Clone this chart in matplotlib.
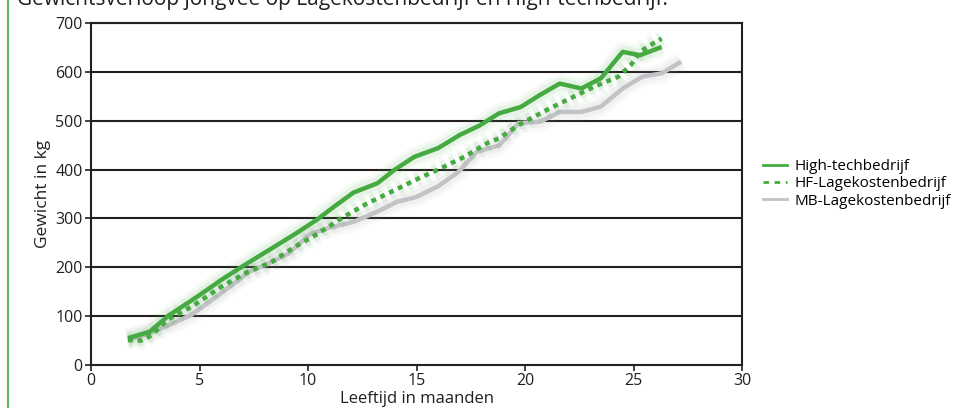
import matplotlib
matplotlib.use("Agg")
import matplotlib.pyplot as plt
import matplotlib.patheffects as pe
from matplotlib.lines import Line2D

plt.rcParams['font.family'] = ['Open Sans', 'DejaVu Sans']

title = "Gewichtsverloop jongvee op Lagekostenbedrijf en High-techbedrijf."
xlabel = "Leeftijd in maanden"
ylabel = "Gewicht in kg"
series_names = ["High-techbedrijf", "HF-Lagekostenbedrijf", "MB-Lagekostenbedrijf"]

ht_x = [1.7, 2.7, 3.6, 4.9, 6.1, 7.2, 8.3, 9.4, 10.4, 11.2, 12.1, 13.2, 14.0, 14.9,
        16.0, 17.0, 17.9, 18.8, 19.8, 20.7, 21.6, 22.6, 23.5, 24.5, 25.3, 26.3]
ht_y = [55, 68, 102, 140, 177, 208, 238, 268, 297, 324, 353, 372, 400, 426,
        444, 471, 490, 515, 528, 553, 576, 566, 587, 641, 634, 651]

hf_x = [1.7, 2.3, 2.8, 3.5, 4.7, 6.0, 7.2, 8.3, 9.4, 10.5, 11.6, 12.7, 14.0, 15.1,
        16.0, 17.2, 18.3, 18.8, 19.7, 21.0, 22.1, 23.2, 24.3, 24.9, 25.3, 25.9, 26.3]
hf_y = [51, 50, 61, 92, 121, 160, 190, 210, 242, 270, 302, 330, 358, 382,
        400, 426, 455, 464, 491, 522, 546, 570, 590, 615, 641, 658, 668]

mb_x = [1.7, 2.7, 3.6, 4.6, 6.0, 7.3, 8.1, 9.1, 10.1, 10.9, 12.1, 13.2, 14.1, 15.0,
        16.0, 16.9, 17.8, 18.8, 19.7, 20.7, 21.6, 22.6, 23.5, 24.5, 25.4, 26.3, 27.2]
mb_y = [51, 65, 82, 102, 147, 191, 206, 228, 268, 280, 293, 314, 334, 344,
        366, 394, 437, 449, 495, 498, 518, 518, 529, 566, 590, 597, 621]

x_ticks = [0, 5, 10, 15, 20, 25, 30]
y_ticks = [0, 100, 200, 300, 400, 500, 600, 700]

green = "#46aa42"
gray = "#c3c3c7"
dark = "#231f20"

fig = plt.figure(figsize=(9.6, 4.08), dpi=100)
ax = fig.add_axes([91/960, 1 - 365/408, (742-91)/960, (365-23)/408])

for yv in y_ticks[1:]:
    ax.axhline(yv, color=dark, lw=1.5, zorder=1)

def glow(color):
    return [pe.Stroke(linewidth=14, foreground=color, alpha=0.05),
            pe.Stroke(linewidth=9, foreground=color, alpha=0.08),
            pe.Normal()]

ax.plot(mb_x, mb_y, color=gray, lw=3.2, zorder=3, solid_capstyle='butt',
        path_effects=glow("#9a9aa0"))
ax.plot(hf_x, hf_y, color=green, lw=3.2, ls=(0, (1.1, 1.1)), zorder=4,
        path_effects=glow(green))
ax.plot(ht_x, ht_y, color=green, lw=3.2, zorder=5, solid_capstyle='butt',
        path_effects=glow(green))

ax.set_xlim(0, 30)
ax.set_ylim(0, 700)
ax.set_xticks(x_ticks)
ax.set_yticks(y_ticks)
ax.tick_params(axis='both', direction='out', length=4, width=1.2, color=dark,
               labelsize=11.5, labelcolor=dark, pad=2)
for s in ['left', 'bottom', 'right', 'top']:
    ax.spines[s].set_color(dark)
    ax.spines[s].set_linewidth(1.5)
ax.set_xlabel(xlabel, fontsize=12, color=dark, labelpad=1)
ax.set_ylabel(ylabel, fontsize=12.5, color=dark, labelpad=3)

handles = [Line2D([], [], color=green, lw=2),
           Line2D([], [], color=green, lw=2, ls=(0, (2, 2))),
           Line2D([], [], color=gray, lw=2)]
fig.legend(handles, series_names, loc='upper left', bbox_to_anchor=(763/960, 1 - 159/408),
           frameon=False, fontsize=11, handlelength=1.6, handletextpad=0.45,
           labelspacing=0.15, borderaxespad=0, borderpad=0)

fig.text(17/960, 1 - 5/408, title, fontsize=15, color=dark, va='baseline', ha='left')
fig.add_artist(Line2D([8/960, 8/960], [0, 1], color="#5cb85c", lw=1.5))

fig.savefig("out.png", dpi=100)
